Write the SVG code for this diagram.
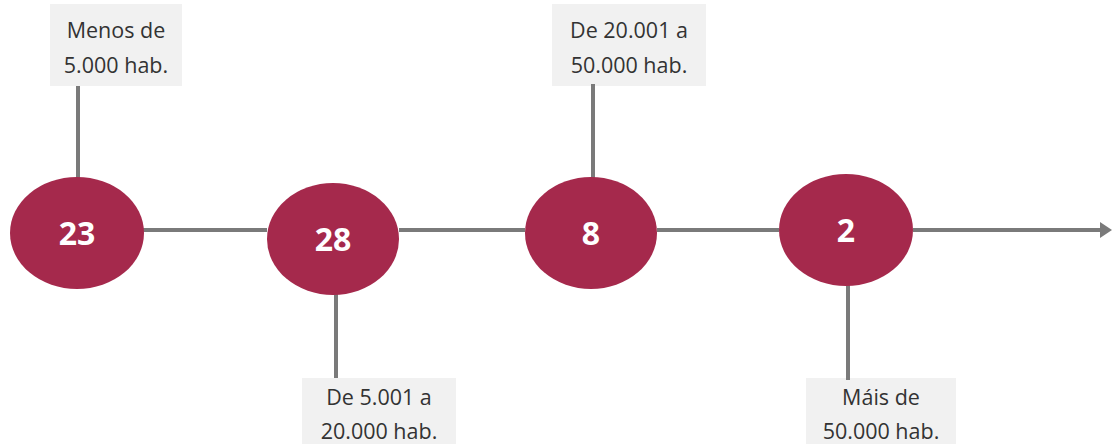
<svg xmlns="http://www.w3.org/2000/svg" width="1113" height="444" viewBox="0 0 1113 444">
<style>
.bg{fill:#ffffff}
.lbl{fill:#f1f1f1}
.lt{font-family:"Open Sans","Liberation Sans",sans-serif;font-size:21.5px;fill:#333333;text-anchor:middle}
.node{fill:#a5294c}
.nt{font-family:"Open Sans","Liberation Sans",sans-serif;font-size:32px;font-weight:bold;fill:#ffffff;text-anchor:middle}
.ln{stroke:#7a7a7a;stroke-width:4;fill:none}
</style>
<defs>
<marker id="ah" markerWidth="3" markerHeight="4" refX="1" refY="2" orient="auto" markerUnits="strokeWidth">
<path d="M0,0 L3,2 L0,4 z" fill="#7a7a7a"/>
</marker>
</defs>
<rect class="bg" x="0" y="0" width="1113" height="444"/>
<g id="labels">
<g id="label1"><rect class="lbl" x="50" y="4" width="132" height="82"/><text class="lt" x="116" y="38">Menos de</text><text class="lt" x="116" y="73">5.000 hab.</text></g>
<g id="label2"><rect class="lbl" x="302" y="378" width="154" height="66"/><text class="lt" x="379" y="405">De 5.001 a</text><text class="lt" x="379" y="439">20.000 hab.</text></g>
<g id="label3"><rect class="lbl" x="552" y="4" width="154" height="82"/><text class="lt" x="629" y="38">De 20.001 a</text><text class="lt" x="629" y="73">50.000 hab.</text></g>
<g id="label4"><rect class="lbl" x="806" y="378" width="150" height="66"/><text class="lt" x="881" y="405">Máis de</text><text class="lt" x="881" y="439">50.000 hab.</text></g>
</g>
<g id="connectors">
<line class="ln" x1="143" y1="230" x2="267" y2="230"/>
<line class="ln" x1="399" y1="230" x2="525" y2="230"/>
<line class="ln" x1="657" y1="230" x2="779" y2="230"/>
<line class="ln" x1="913" y1="230" x2="1104" y2="230" marker-end="url(#ah)"/>
<line class="ln" x1="78" y1="86" x2="78" y2="178"/>
<line class="ln" x1="593" y1="84" x2="593" y2="178"/>
<line class="ln" x1="336" y1="292" x2="336" y2="378"/>
<line class="ln" x1="848" y1="284" x2="848" y2="380"/>
</g>
<g id="n23"><ellipse class="node" cx="77" cy="233" rx="67" ry="56"/><text class="nt" x="77" y="245">23</text></g>
<g id="n28"><ellipse class="node" cx="333" cy="239" rx="66" ry="56"/><text class="nt" x="333" y="251">28</text></g>
<g id="n8"><ellipse class="node" cx="591" cy="233" rx="66" ry="56"/><text class="nt" x="591" y="245">8</text></g>
<g id="n2"><ellipse class="node" cx="846" cy="230" rx="67" ry="56"/><text class="nt" x="846" y="242">2</text></g>
</svg>
